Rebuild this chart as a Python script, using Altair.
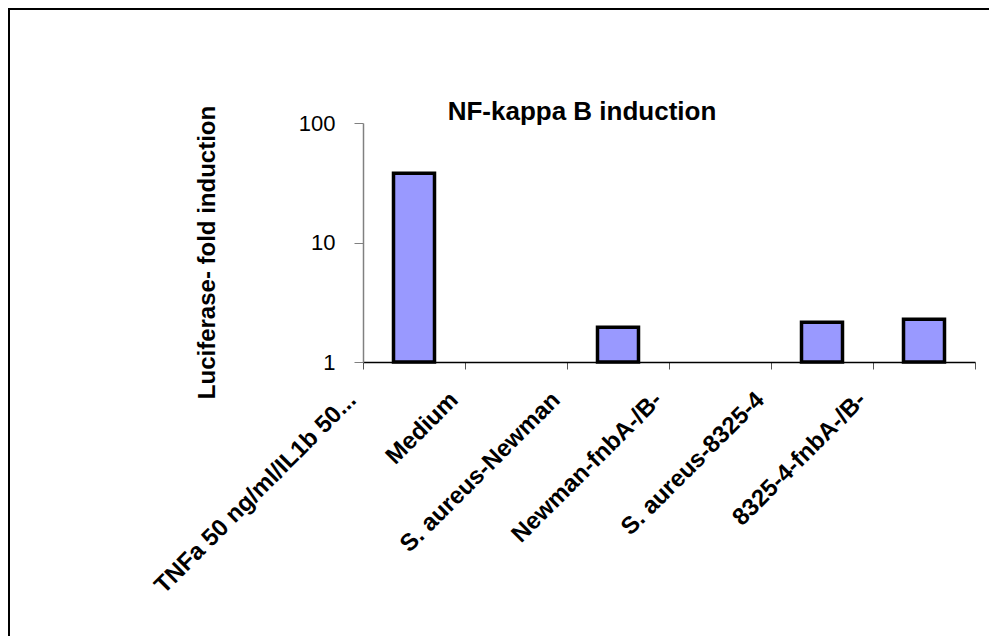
import altair as alt
import pandas as pd

categories = [
    "TNFa 50 ng/ml/IL1b 50...",
    "Medium",
    "S. aureus-Newman",
    "Newman-fnbA-/B-",
    "S. aureus-8325-4",
    "8325-4-fnbA-/B-",
]
fold_induction = [38, None, 1.95, None, 2.15, 2.28]
y_ticks = [1, 10, 100]
chart_title = "NF-kappa B induction"

df = pd.DataFrame({"condition": categories, "fold": fold_induction})
title_df = pd.DataFrame({"label": [chart_title]})

FONT = "Liberation Sans"

x_enc = alt.X(
    "condition:N",
    sort=categories,
    scale=alt.Scale(paddingInner=0, paddingOuter=0),
    axis=alt.Axis(
        title=None,
        labelAngle=-45,
        labelAlign="right",
        labelBaseline="middle",
        labelOffset=-62,
        labelPadding=27,
        labelFont=FONT,
        labelFontSize=24,
        labelFontWeight="bold",
        labelColor="black",
        labelLimit=400,
        tickBand="extent",
        tickSize=7,
        tickColor="#555555",
        domainColor="black",
        domainWidth=1.5,
    ),
)

y_enc = alt.Y(
    "fold:Q",
    scale=alt.Scale(type="log", domain=[1, 100], nice=False),
    axis=alt.Axis(
        title="Luciferase- fold induction",
        titleFont=FONT,
        titleFontSize=24,
        titleFontWeight="bold",
        titleColor="black",
        titleAngle=-90,
        titleX=-156,
        titleY=129,
        titleAlign="center",
        titleBaseline="middle",
        values=y_ticks,
        format="d",
        labelFont=FONT,
        labelFontSize=22,
        labelColor="black",
        labelPadding=19,
        tickSize=9,
        tickColor="#808080",
        domainColor="#808080",
        domainWidth=1.5,
        grid=False,
    ),
)

bars = alt.Chart(df).mark_bar(
    width=41, color="#9999FF", stroke="black", strokeWidth=3.5
).encode(x=x_enc, y=y_enc, y2=alt.datum(1))

title_text = alt.Chart(title_df).mark_text(
    font=FONT, fontSize=26, fontWeight="bold", color="black",
    align="center", baseline="alphabetic",
).encode(text="label:N", x=alt.value(219), y=alt.value(-3))

frame = alt.Chart(title_df).mark_rect(
    fillOpacity=0, stroke="black", strokeWidth=2
).encode(
    x=alt.value(-354), x2=alt.value(800),
    y=alt.value(-114), y2=alt.value(700),
)

chart = alt.layer(bars, title_text, frame).properties(
    width=612,
    height=239,
    autosize=alt.AutoSizeParams(type="none"),
    padding={"left": 355, "top": 115, "right": 14, "bottom": 274},
    background="white",
).configure_view(stroke=None)

chart.save("out.html", embed_options={"renderer": "svg", "actions": False})
